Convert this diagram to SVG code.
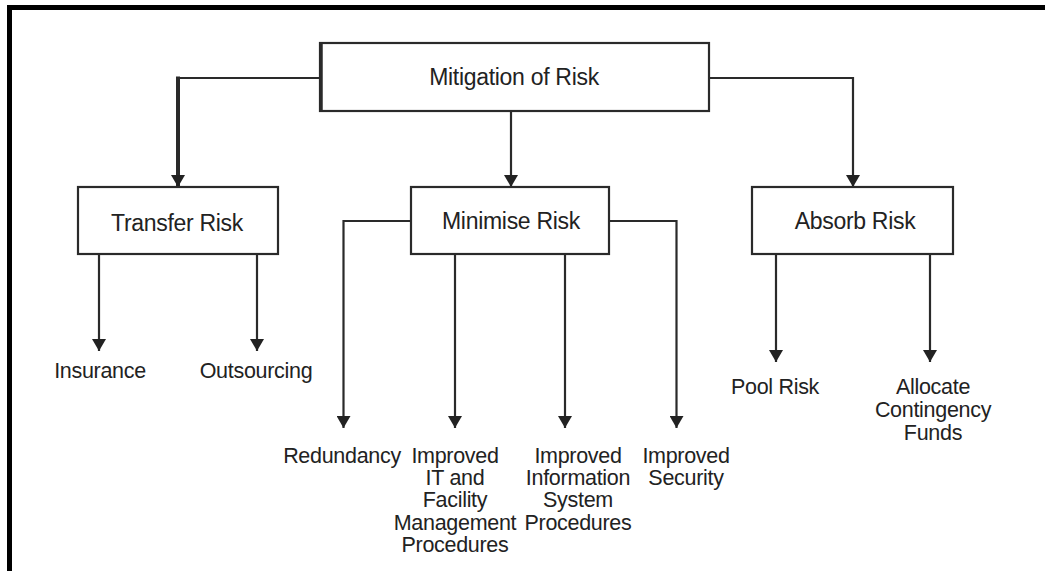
<svg xmlns="http://www.w3.org/2000/svg" width="1045" height="571" viewBox="0 0 1045 571">
  <style>
    .box { fill: #ffffff; stroke: #2a2a2a; stroke-width: 2.2; }
    .title { font-family: "Liberation Sans", Arial, sans-serif; font-size: 23px; fill: #222222; text-anchor: middle; letter-spacing: -0.3px; }
    .label { font-family: "Liberation Sans", Arial, sans-serif; font-size: 21.5px; fill: #222222; text-anchor: middle; letter-spacing: -0.3px; }
    .wire { fill: none; stroke: #2a2a2a; stroke-width: 2.2; }
    .wire-bold { fill: none; stroke: #2a2a2a; stroke-width: 4; }
  </style>
  <defs>
    <!-- filled arrowhead, drawn pointing along +x so orient="auto" turns it with the line -->
    <marker id="tip" viewBox="0 0 12 14" refX="12" refY="7" markerWidth="12" markerHeight="14" markerUnits="userSpaceOnUse" orient="auto">
      <path d="M0,0 L12,7 L0,14 Z" fill="#222222"/>
    </marker>
  </defs>

  <rect width="1045" height="571" fill="#ffffff"/>

  <!-- page frame: top and left rules only -->
  <g id="frame">
    <line x1="7" y1="7.5" x2="1045" y2="7.5" stroke="#000000" stroke-width="5"/>
    <line x1="9.5" y1="5" x2="9.5" y2="571" stroke="#000000" stroke-width="5"/>
  </g>

  <!-- connectors -->
  <g id="connectors">
    <!-- root to the three strategies -->
    <path class="wire" d="M320,78 H178"/>
    <line class="wire-bold" x1="178" y1="76.5" x2="178" y2="187" marker-end="url(#tip)"/>
    <line class="wire" x1="511" y1="111" x2="511" y2="187" marker-end="url(#tip)"/>
    <path class="wire" d="M709,78 H853 V187" marker-end="url(#tip)"/>

    <!-- transfer risk -->
    <line class="wire" x1="99" y1="254" x2="99" y2="351" marker-end="url(#tip)"/>
    <line class="wire" x1="257" y1="254" x2="257" y2="351" marker-end="url(#tip)"/>

    <!-- minimise risk -->
    <path class="wire" d="M411,221 H343.5 V428" marker-end="url(#tip)"/>
    <line class="wire" x1="455" y1="254" x2="455" y2="428" marker-end="url(#tip)"/>
    <line class="wire" x1="565" y1="254" x2="565" y2="428" marker-end="url(#tip)"/>
    <path class="wire" d="M609,221 H676.5 V428" marker-end="url(#tip)"/>

    <!-- absorb risk -->
    <line class="wire" x1="776" y1="254" x2="776" y2="362" marker-end="url(#tip)"/>
    <line class="wire" x1="930" y1="254" x2="930" y2="362" marker-end="url(#tip)"/>
  </g>

  <g id="mitigation">
    <rect class="box" x="320" y="43" width="389" height="68"/>
    <line x1="321" y1="42" x2="321" y2="112" stroke="#2a2a2a" stroke-width="3.5"/>
    <text class="title" x="514" y="85">Mitigation of Risk</text>
  </g>

  <g id="transfer">
    <rect class="box" x="78" y="187" width="200" height="67"/>
    <text class="title" x="177" y="231">Transfer Risk</text>
  </g>

  <g id="minimise">
    <rect class="box" x="411" y="187" width="198" height="67"/>
    <text class="title" x="511" y="229">Minimise Risk</text>
  </g>

  <g id="absorb">
    <rect class="box" x="752" y="187" width="201" height="67"/>
    <text class="title" x="855" y="229">Absorb Risk</text>
  </g>

  <g id="insurance"><text class="label" x="100" y="378">Insurance</text></g>
  <g id="outsourcing"><text class="label" x="256" y="378">Outsourcing</text></g>

  <g id="redundancy"><text class="label" x="342" y="463">Redundancy</text></g>
  <g id="it-facility">
    <text class="label" x="455" y="463">Improved</text>
    <text class="label" x="455" y="485">IT and</text>
    <text class="label" x="455" y="507">Facility</text>
    <text class="label" x="455" y="530">Management</text>
    <text class="label" x="455" y="552">Procedures</text>
  </g>
  <g id="info-system">
    <text class="label" x="578" y="463">Improved</text>
    <text class="label" x="578" y="485">Information</text>
    <text class="label" x="578" y="507">System</text>
    <text class="label" x="578" y="530">Procedures</text>
  </g>
  <g id="security">
    <text class="label" x="686" y="463">Improved</text>
    <text class="label" x="686" y="485">Security</text>
  </g>

  <g id="pool-risk"><text class="label" x="775" y="394">Pool Risk</text></g>
  <g id="contingency">
    <text class="label" x="933" y="394">Allocate</text>
    <text class="label" x="933" y="417">Contingency</text>
    <text class="label" x="933" y="440">Funds</text>
  </g>
</svg>
